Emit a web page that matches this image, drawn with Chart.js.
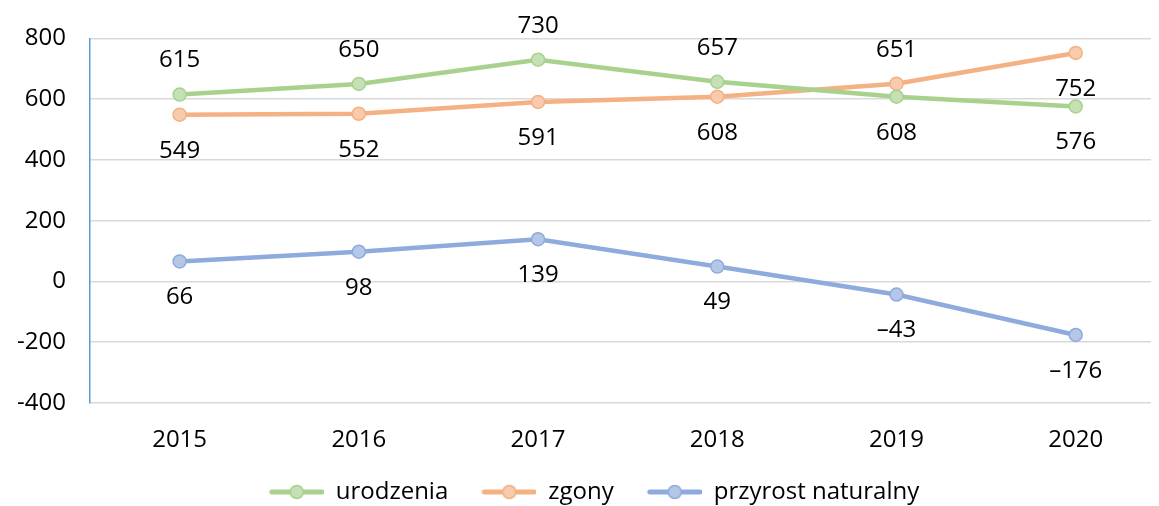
<!DOCTYPE html>
<html>
<head>
<meta charset="utf-8">
<script src="https://cdn.jsdelivr.net/npm/chart.js@4.4.1/dist/chart.umd.min.js"></script>
<style>
  body { margin: 0; background: #fff; }
  #wrap { width: 1159px; height: 506px; }
</style>
</head>
<body>
<div id="wrap"><canvas id="myChart" width="1159" height="506"></canvas></div>
<script>
const years = ['2015', '2016', '2017', '2018', '2019', '2020'];
const urodzenia = [615, 650, 730, 657, 608, 576];
const zgony = [549, 552, 591, 608, 651, 752];
const przyrost = [66, 98, 139, 49, -43, -176];
const yTicks = [-400, -200, 0, 200, 400, 600, 800];

const FONT = 'Open Sans';
const FS = 24;

// line+circle legend symbol, with empty space on the left as item gap
function legendIcon(line, fill) {
    var c = document.createElement('canvas');
    c.width = 84; c.height = 16;
    var g = c.getContext('2d');
    g.strokeStyle = line; g.lineWidth = 5; g.lineCap = 'round';
    g.beginPath(); g.moveTo(32, 8); g.lineTo(82, 8); g.stroke();
    g.fillStyle = fill; g.lineWidth = 1.5;
    g.beginPath(); g.arc(57, 8, 6.5, 0, Math.PI * 2); g.fill(); g.stroke();
    return c;
}

function toPoints(arr) {
    return arr.map(function (v, i) { return { x: i, y: v }; });
}

function fmt(v) {
    return v < 0 ? '\u2013' + Math.abs(v) : String(v);
}

// draws the value labels above/below each point
const valueLabels = {
    id: 'valueLabels',
    afterDatasetsDraw: function (chart) {
        var ctx = chart.ctx;
        ctx.save();
        ctx.font = FS + 'px "' + FONT + '"';
        ctx.fillStyle = '#000';
        ctx.textAlign = 'center';
        ctx.textBaseline = 'middle';
        chart.data.datasets.forEach(function (ds, di) {
            var meta = chart.getDatasetMeta(di);
            meta.data.forEach(function (pt, i) {
                var up = ds.labelSide[i] === 'up';
                ctx.fillText(fmt(ds.data[i].y), pt.x, pt.y + (up ? -34 : 36));
            });
        });
        ctx.restore();
    }
};

const green = '#a9d18e', orange = '#f4b183', blue = '#8faadc';

new Chart(document.getElementById('myChart'), {
    type: 'line',
    data: {
        datasets: [{
            label: 'urodzenia',
            data: toPoints(urodzenia),
            borderColor: green,
            backgroundColor: '#c5e0b4',
            icon: legendIcon(green, '#c5e0b4'),
            labelSide: ['up', 'up', 'up', 'up', 'down', 'down']
        }, {
            label: 'zgony',
            data: toPoints(zgony),
            borderColor: orange,
            backgroundColor: '#f8cbad',
            icon: legendIcon(orange, '#f8cbad'),
            labelSide: ['down', 'down', 'down', 'down', 'up', 'down']
        }, {
            label: 'przyrost naturalny',
            data: toPoints(przyrost),
            borderColor: blue,
            backgroundColor: '#b4c7e7',
            icon: legendIcon(blue, '#b4c7e7'),
            labelSide: ['down', 'down', 'down', 'down', 'down', 'down']
        }]
    },
    options: {
        responsive: false,
        animation: false,
        layout: { padding: { top: 20, right: 0, left: 0, bottom: -8 } },
        elements: {
            line: { borderWidth: 4.5, tension: 0 },
            point: { radius: 6.5, borderWidth: 1.5, pointStyle: 'circle' }
        },
        plugins: {
            legend: {
                position: 'bottom',
                labels: {
                    usePointStyle: true,
                    pointStyleWidth: 84,
                    boxHeight: 16,
                    padding: 4,
                    color: '#000',
                    font: { family: FONT, size: FS },
                    generateLabels: function (chart) {
                        return chart.data.datasets.map(function (ds, i) {
                            return {
                                text: ds.label,
                                pointStyle: ds.icon,
                                fillStyle: ds.backgroundColor,
                                strokeStyle: ds.borderColor,
                                lineWidth: 0,
                                fontColor: '#000',
                                datasetIndex: i
                            };
                        });
                    }
                }
            },
            tooltip: { enabled: false }
        },
        scales: {
            x: {
                type: 'linear',
                min: -0.5,
                max: 5.42,
                afterBuildTicks: function (scale) {
                    scale.ticks = years.map(function (y, i) { return { value: i }; });
                },
                afterFit: function (scale) { scale.height = 73; },
                grid: { display: false },
                border: { display: false },
                ticks: {
                    autoSkip: false,
                    maxRotation: 0,
                    padding: 15,
                    color: '#000',
                    font: { family: FONT, size: FS },
                    callback: function (v) { return years[v]; }
                }
            },
            y: {
                min: yTicks[0],
                max: yTicks[yTicks.length - 1],
                afterBuildTicks: function (scale) {
                    scale.ticks = yTicks.map(function (v) { return { value: v }; });
                },
                afterFit: function (scale) { scale.width = 90; },
                grid: { color: '#d9d9d9', lineWidth: 1.5, drawTicks: false },
                border: { display: true, color: '#5b9bd5', width: 1.5 },
                ticks: {
                    padding: 24,
                    color: '#000',
                    font: { family: FONT, size: FS }
                }
            }
        }
    },
    plugins: [valueLabels]
});
</script>
</body>
</html>
